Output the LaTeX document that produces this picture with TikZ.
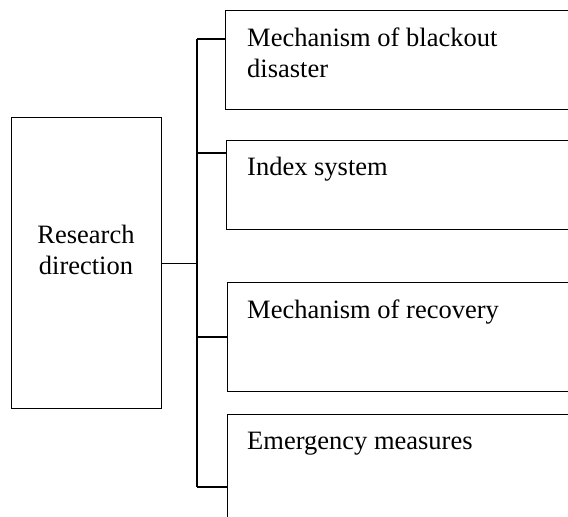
\documentclass[tikz,border=0pt]{standalone}
\usepackage{fontspec}
\setmainfont{Liberation Serif}
\tikzset{
  box/.style={draw, line width=1.4pt, rectangle, inner sep=0pt, anchor=north west},
  lbl/.style={inner sep=0pt, font=\fontsize{26.5}{30.5}\selectfont},
  link/.style={line width=1.4pt}
}
\begin{document}
\begin{tikzpicture}[x=1pt,y=-1pt]
\useasboundingbox (0,0) rectangle (568,517);
\clip (0,0) rectangle (568,517);
% boxes
\node[box, minimum width=150pt, minimum height=291pt] (lb) at (11,117) {};
\node[box, minimum width=400pt, minimum height=99pt] (b1) at (225,10) {};
\node[box, minimum width=400pt, minimum height=89pt] (b2) at (226,140) {};
\node[box, minimum width=400pt, minimum height=109pt] (b3) at (227,282) {};
\node[box, minimum width=400pt, minimum height=150pt] (b4) at (227,414) {};
% labels
\node[lbl, anchor=base, align=center] (tl) at (86,274) {Research\\direction};
\node[lbl, anchor=base west, align=left] (t1) at (247,77) {Mechanism of blackout\\disaster};
\node[lbl, anchor=base west] (t2) at (247,175) {Index system};
\node[lbl, anchor=base west] (t3) at (247,318) {Mechanism of recovery};
\node[lbl, anchor=base west] (t4) at (247,449) {Emergency measures};
% trunk
\coordinate (k1) at (197,39);
\coordinate (k2) at (197,153);
\coordinate (k3) at (197,337);
\coordinate (k4) at (197,487);
\draw[link] (k1) -- (k4);
\draw[link] (lb.east) -- (lb.east -| k1);
\draw[link] (k1) -- (k1 -| b1.west);
\draw[link] (k2) -- (k2 -| b2.west);
\draw[link] (k3) -- (k3 -| b3.west);
\draw[link] (k4) -- (k4 -| b4.west);
\end{tikzpicture}
\end{document}
